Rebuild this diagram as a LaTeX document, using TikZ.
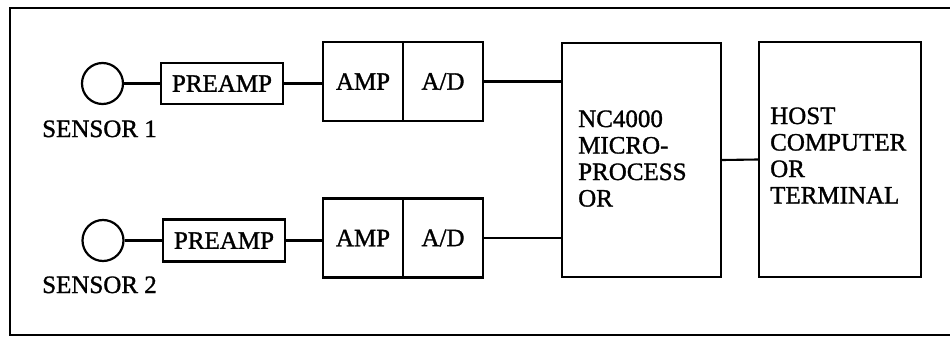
\documentclass[tikz,border=0pt]{standalone}
\usepackage{fontspec}
\setmainfont{Liberation Serif}[FakeBold=1.2]
\newfontfamily\heavyserif{Liberation Serif}[FakeBold=1.2]
\begin{document}
\begin{tikzpicture}[x=1pt,y=-1pt,
  font=\heavyserif\fontsize{25}{26.7}\selectfont,
  box/.style={draw,line width=2.3pt,inner sep=0pt,rectangle},
  sens/.style={draw,circle,line width=2.2pt,minimum size=41pt,inner sep=0pt},
  wire/.style={line width=2.1pt},
  lbl/.style={inner sep=0pt,anchor=base west}]
\useasboundingbox (0,0) rectangle (950,337);
% outer frame
\draw[line width=1.5pt] (950,8) -- (10,8) -- (10,335) -- (950,335);
% row 1
\node[sens] (s1) at (102.5,83.5) {};
\node[lbl] (l1) at (42,137) {SENSOR 1};
\node[box,minimum width=122pt,minimum height=41pt] (p1) at (222,83.5) {PREAMP};
\node[box,minimum width=80pt,minimum height=79pt] (amp1) at (363,81.5) {AMP};
\node[box,minimum width=80pt,minimum height=79pt] (ad1) at (443,81.5) {A/D};
% row 2
\node[sens] (s2) at (103,240.5) {};
\node[lbl] (l2) at (42,293) {SENSOR 2};
\node[box,minimum width=122pt,minimum height=42pt] (p2) at (224,240.5) {PREAMP};
\node[box,minimum width=80pt,minimum height=79pt] (amp2) at (363,238) {AMP};
\node[box,minimum width=80pt,minimum height=79pt] (ad2) at (443,238) {A/D};
% processor and host
\node[box,minimum width=159pt,minimum height=234pt] (nc) at (641.5,160) {};
\node[box,minimum width=162pt,minimum height=235pt] (host) at (840,159.5) {};
\node[lbl] (nc1) at (578,127) {NC4000};
\node[lbl] (nc2) at (578,153.5) {MICRO-};
\node[lbl] (nc3) at (578,180) {PROCESS};
\node[lbl] (nc4) at (578,206.5) {OR};
\node[lbl] (h1) at (770,124) {HOST};
\node[lbl] (h2) at (770,150.5) {COMPUTER};
\node[lbl] (h3) at (770,177) {OR};
\node[lbl] (h4) at (770,203.5) {TERMINAL};
% connectors
\draw[wire] (s1.east) -- (p1.west);
\draw[wire] (p1.east) -- (p1.east -| amp1.west);
\draw[wire] (ad1.east) -- (ad1.east -| nc.west);
\draw[wire] (s2.east) -- (p2.west);
\draw[wire] (p2.east) -- (p2.east -| amp2.west);
\draw[wire] (ad2.east) -- (ad2.east -| nc.west);
\draw[wire] (nc.east) -- (host.west);
\end{tikzpicture}
\end{document}
